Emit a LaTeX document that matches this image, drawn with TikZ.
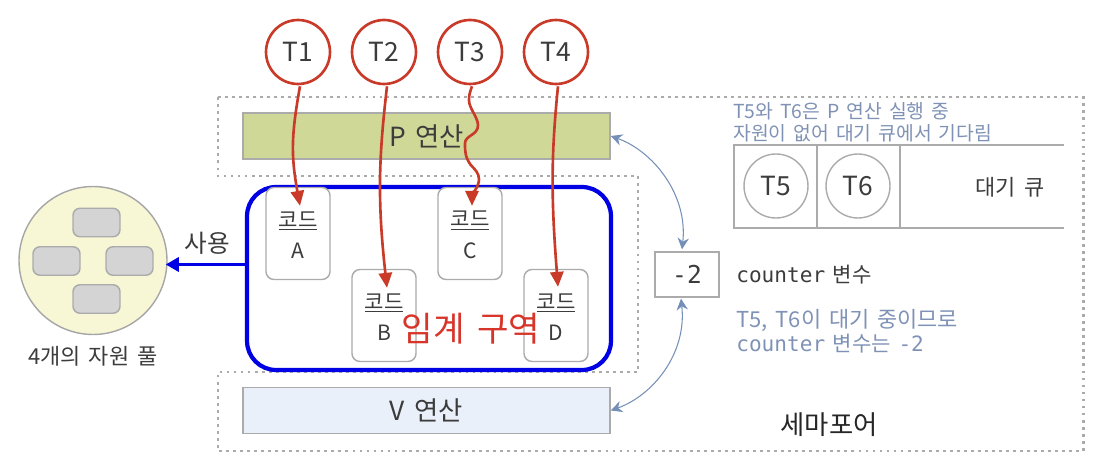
\documentclass[tikz,border=0pt]{standalone}
\usepackage{fontspec}
\usepackage{xcolor}
\usetikzlibrary{arrows.meta,calc}
\setmainfont[WordSpace=1.6]{Noto Sans CJK KR}
\newfontfamily\cntfont[WordSpace=1.3]{DejaVu Sans Mono}
\definecolor{threadred}{HTML}{C93A28}
\definecolor{titlered}{HTML}{D8352A}
\definecolor{noteblue}{HTML}{7F92B5}
\definecolor{linkblue}{HTML}{7590B8}
\definecolor{edgegray}{HTML}{ABABAB}
\definecolor{inktext}{HTML}{3C3C3C}
\newcommand{\fsz}[1]{\fontsize{#1}{#1}\selectfont}
\newcommand{\cnt}[1]{{\cntfont #1}}

\begin{document}
\begin{tikzpicture}[
    x=0.02cm, y=-0.02cm,
    thread/.style={circle, draw=threadred, line width=1.5pt, fill=white, minimum size=1.28cm, inner sep=0pt, text=inktext, font=\fsz{15}},
    waiter/.style={circle, draw=edgegray, line width=0.8pt, minimum size=1.28cm, inner sep=0pt, text=inktext, font=\fsz{15}},
    opbox/.style={draw=edgegray, line width=0.9pt, minimum width=7.34cm, minimum height=0.92cm, inner sep=0pt, text=inktext, font=\fsz{15}},
    codebox/.style={draw=edgegray, fill=white, line width=0.8pt, rounded corners=0.16cm, minimum width=1.28cm, minimum height=1.84cm, inner sep=0pt},
    codetext/.style={text=inktext, font=\fsz{12}, align=center, inner sep=0pt},
    slot/.style={draw=edgegray, fill=black!17, line width=0.8pt, rounded corners=0.14cm, minimum width=0.94cm, minimum height=0.57cm, inner sep=0pt},
    note/.style={text=noteblue, font=\fsz{11}, anchor=west, align=left, inner sep=0pt},
    redflow/.style={-{Triangle[length=8.5pt,width=7.5pt]}, draw=threadred, line width=1.5pt},
    twoway/.style={{Stealth[length=6.5pt,width=6.5pt]}-{Stealth[length=6.5pt,width=6.5pt]}, draw=linkblue, line width=0.6pt}
]
\useasboundingbox (0,0) rectangle (1106,456);
% semaphore outline
\draw[edgegray, line width=1.7pt, dash pattern=on 1.6pt off 2.4pt] (218,97) -- (1083,97) -- (1083,451) -- (218,451)
    -- (218,372) -- (638,372) -- (638,176) -- (218,176) -- cycle;
\node[opbox, fill={rgb,255:red,208;green,216;blue,152}] (pOp) at (426.5,136) {P 연산};
\node[opbox, fill={rgb,255:red,233;green,240;blue,249}] (vOp) at (426.5,410.5) {V 연산};
\node[draw=blue!90!black, line width=2.4pt, rounded corners=0.58cm, minimum width=7.28cm, minimum height=3.66cm, inner sep=0pt] (critical) at (429,278.5) {};
% code blocks
\node[codebox] (codeA) at (298,233.5) {};
\node[codebox] (codeB) at (384,315.5) {};
\node[codebox] (codeC) at (470,233.5) {};
\node[codebox] (codeD) at (556,315.5) {};
\node[codetext] (textA) at (298,235) {\underline{코드}\\[6pt]A};
\node[codetext] (textB) at (384,317) {\underline{코드}\\[6pt]B};
\node[codetext] (textC) at (470,235) {\underline{코드}\\[6pt]C};
\node[codetext] (textD) at (556,317) {\underline{코드}\\[6pt]D};
\node[text=titlered, font=\fsz{19.5}, inner sep=0pt] (critText) at (471,329) {임계 구역};
% threads
\node[thread] (t1) at (298,52) {T1};
\node[thread] (t2) at (384,52) {T2};
\node[thread] (t3) at (470,52) {T3};
\node[thread] (t4) at (556,52) {T4};
\draw[redflow] ($(t1.south)+(2,1)$) .. controls +(-9,50) and +(-9,-50) .. ($(codeA.north)+(2,19)$);
\draw[redflow] ($(t2.south)+(3,1)$) .. controls +(-8,70) and +(-10,-90) .. ($(codeB.north)+(3,19)$);
\draw[redflow] ($(t3.south)+(2,1)$) .. controls +(-2,6) and +(0,-6) .. ++(-3,14)
    .. controls +(0,8) and +(0,-8) .. ++(9,25)
    .. controls +(0,10) and +(0,-8) .. ++(-13,18)
    .. controls +(0,8) and +(-6,-8) .. ++(6,22)
    .. controls +(4,4) and +(0,-6) .. ++(8,14)
    .. controls +(0,7) and +(0,-10) .. ($(codeC.north)+(2,19)$);
\draw[redflow] ($(t4.south)+(2,1)$) .. controls +(-7,70) and +(-7,-90) .. ($(codeD.north)+(2,18)$);
% resource pool
\node[circle, draw=black!35, fill={rgb,255:red,247;green,247;blue,214}, line width=0.8pt, minimum size=2.96cm, inner sep=0pt] (pool) at (93,260.5) {};
\node[slot] (slotTop) at (96.5,222.5) {};
\node[slot] (slotLeft) at (56.5,261) {};
\node[slot] (slotRight) at (129.5,261) {};
\node[slot] (slotBottom) at (96.5,299) {};
\node[text=inktext, font=\fsz{12.5}, inner sep=0pt] (poolText) at (93,356) {4개의 자원 풀};
\draw[-{Triangle[length=7.5pt,width=8pt]}, draw=blue!90!black, line width=2pt] ($(critical.west)+(0,-14)$) -- ($(pool.east)+(-2,4)$);
\node[text=inktext, font=\fsz{14}, inner sep=0pt] (useText) at (207,243) {사용};
% counter
\node[draw=edgegray, line width=0.8pt, minimum width=1.28cm, minimum height=0.9cm, inner sep=0pt, text=inktext, font=\cntfont\fsz{14}] (counter) at (687,274.5) {-2};
\draw[twoway] (pOp.east) .. controls +(42,15) and +(6,-55) .. ($(counter.north)+(-5,-2)$);
\draw[twoway] (vOp.east) .. controls +(42,-15) and +(6,55) .. ($(counter.south)+(-6,1)$);
% wait queue
\node[note] (waitNote) at (733,122) {T5와 T6은 P 연산 실행 중\\[1.5pt]자원이 없어 대기 큐에서 기다림};
\coordinate (qTL) at (734,145);
\coordinate (qTR) at (1064,145);
\coordinate (qBL) at (734,228);
\coordinate (qBR) at (1064,228);
\draw[edgegray, line width=0.9pt] (qTR) -- (qTL) -- (qBL) -- (qBR);
\draw[edgegray, line width=0.9pt] (817,145) -- (817,228) (900,145) -- (900,228);
\node[waiter] (t5) at (776,186) {T5};
\node[waiter] (t6) at (858,186) {T6};
\node[text=inktext, font=\fsz{12.5}, inner sep=0pt] (queueText) at (1010,187) {대기 큐};
\node[text=inktext, font=\fsz{12}, anchor=west, inner sep=0pt] (counterText) at (736,275) {\cnt{counter} 변수};
\node[note, font=\fsz{12.5}] (counterNote) at (736,331) {T5, T6이 대기 중이므로\\[1pt]{\fsz{12}\cnt{counter} 변수는 \cnt{-2}}};
\node[text=black!85, font=\fsz{15}, inner sep=0pt] (semaText) at (829,425) {세마포어};
\end{tikzpicture}
\end{document}
